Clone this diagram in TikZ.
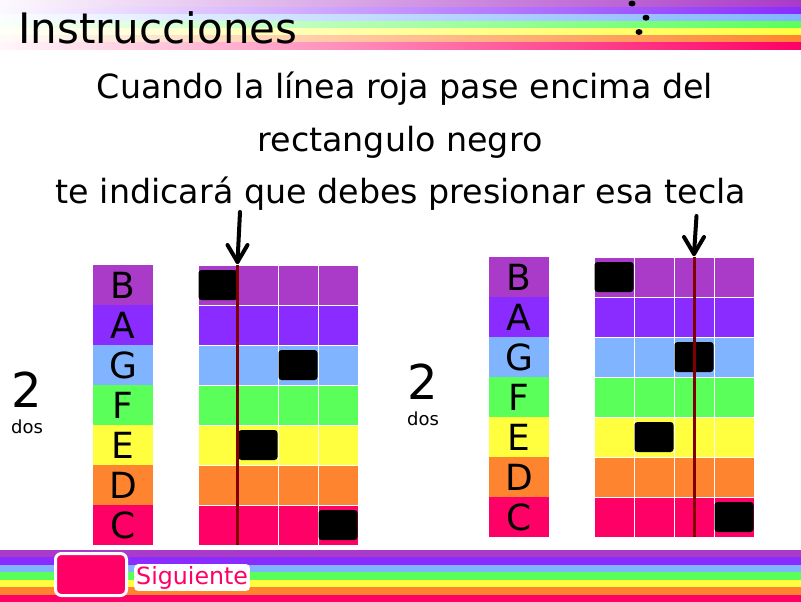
\documentclass[tikz,border=0pt]{standalone}
\usepackage{fontspec}
\setmainfont{DejaVu Sans}
\usetikzlibrary{positioning}

\definecolor{notaB}{RGB}{170,58,200}
\definecolor{notaA}{RGB}{138,43,255}
\definecolor{notaG}{RGB}{128,180,255}
\definecolor{notaF}{RGB}{90,255,90}
\definecolor{notaE}{RGB}{255,255,64}
\definecolor{notaD}{RGB}{255,132,48}
\definecolor{notaC}{RGB}{255,0,102}
\definecolor{linearoja}{RGB}{128,0,0}

\begin{document}
\begin{tikzpicture}[
    x=1pt, y=-1pt,
    celda/.style={draw=white, line width=1pt},
    bloque/.style={fill=black, rounded corners=3pt},
    letra/.style={font=\fontsize{36}{36}\selectfont},
    numero/.style={font=\fontsize{48}{48}\selectfont, anchor=base, inner sep=0pt},
    palabra/.style={font=\fontsize{18}{18}\selectfont, anchor=base, inner sep=0pt},
    raya/.style={draw=linearoja, line width=3pt},
    flecha/.style={line width=4pt, line cap=round, line join=round},
    texto/.style={font=\fontsize{33.3}{34}\selectfont, anchor=base, inner sep=0pt}
]
\useasboundingbox (0,0) rectangle (801,602);

% Top rainbow
\foreach \c [count=\i from 0] in {notaB,notaA,notaG,notaF,notaE,notaD,notaC}
  \shade[left color=\c!3!white, right color=\c] (0,{\i*50/7}) rectangle (801,{(\i+1)*50/7});

% Title
\node[font=\fontsize{42}{42}\selectfont, anchor=base west, inner sep=0pt] (titulo) at (18,44) {Instrucciones};

% Dots
\foreach \p/\n in {{(632,3.5)}/p1, {(646,17.7)}/p2, {(639,32)}/p3}
  \fill \p ellipse (3.5pt and 3pt);

% Instruction text
\node[texto] (linea1) at (405,99) {Cuando la línea roja pase encima del};
\node[texto] (linea2) at (400,151) {rectangulo negro};
\node[texto] (linea3) at (401,203) {te indicará que debes presionar esa tecla};

% Panels
\foreach \gx/\gy/\rx/\ay/\nombre in {198/265/39.5/-53/izq, 594/257/100/-41/der} {
  \begin{scope}[shift={(\gx,\gy)}]
    % Letters and grid
    \foreach \c/\l [count=\i from 0] in {notaB/B,notaA/A,notaG/G,notaF/F,notaE/E,notaD/D,notaC/C} {
      \fill[\c] (-105,{\i*40}) rectangle (-45,{\i*40+40});
      \node[letra] (letra-\nombre-\l) at (-75,{\i*40+20}) {\l};
      \foreach \j in {0,...,3}
        \draw[celda, fill=\c] ({\j*40},{\i*40}) rectangle ++(40,40);
    }
    % Black blocks
    \foreach \j/\i in {0/0, 2/2, 1/4, 3/6}
      \fill[bloque] ({\j*40+0.5},{\i*40+5}) rectangle ++(39,30);
    % Red line
    \coordinate (tope-\nombre) at (\rx,0);
    \coordinate (pie-\nombre) at (\rx,280);
    \draw[raya] (tope-\nombre) -- (pie-\nombre);
    % Arrow
    \coordinate (punta-\nombre) at (\rx,-3);
    \coordinate (cola-\nombre) at ({\rx+2.5},\ay);
    \draw[flecha] (cola-\nombre) -- (punta-\nombre);
    \draw[flecha] (punta-\nombre) ++(-10,-17) -- (punta-\nombre) -- ++(10,-17);
    % Count
    \node[numero] (num-\nombre) at (-171,142) {2};
    \node[palabra] (dos-\nombre) at (-171,168) {dos};
  \end{scope}
}

% Bottom rainbow
\foreach \c [count=\i from 0] in {notaB,notaA,notaG,notaF,notaE,notaD,notaC}
  \fill[\c] (0,{550+\i*52/7}) rectangle (801,{550+(\i+1)*52/7});

% Next button
\node[draw=white, line width=3pt, fill=notaC, rounded corners=6pt, minimum width=71pt, minimum height=42pt, inner sep=0pt] (boton) at (91,574.5) {};
\node[font=\fontsize{23.7}{24}\selectfont, text=notaC, fill=white, rounded corners=4pt, inner sep=2pt, right=6pt of boton, yshift=-3pt] (siguiente) {Siguiente};

\end{tikzpicture}
\end{document}
